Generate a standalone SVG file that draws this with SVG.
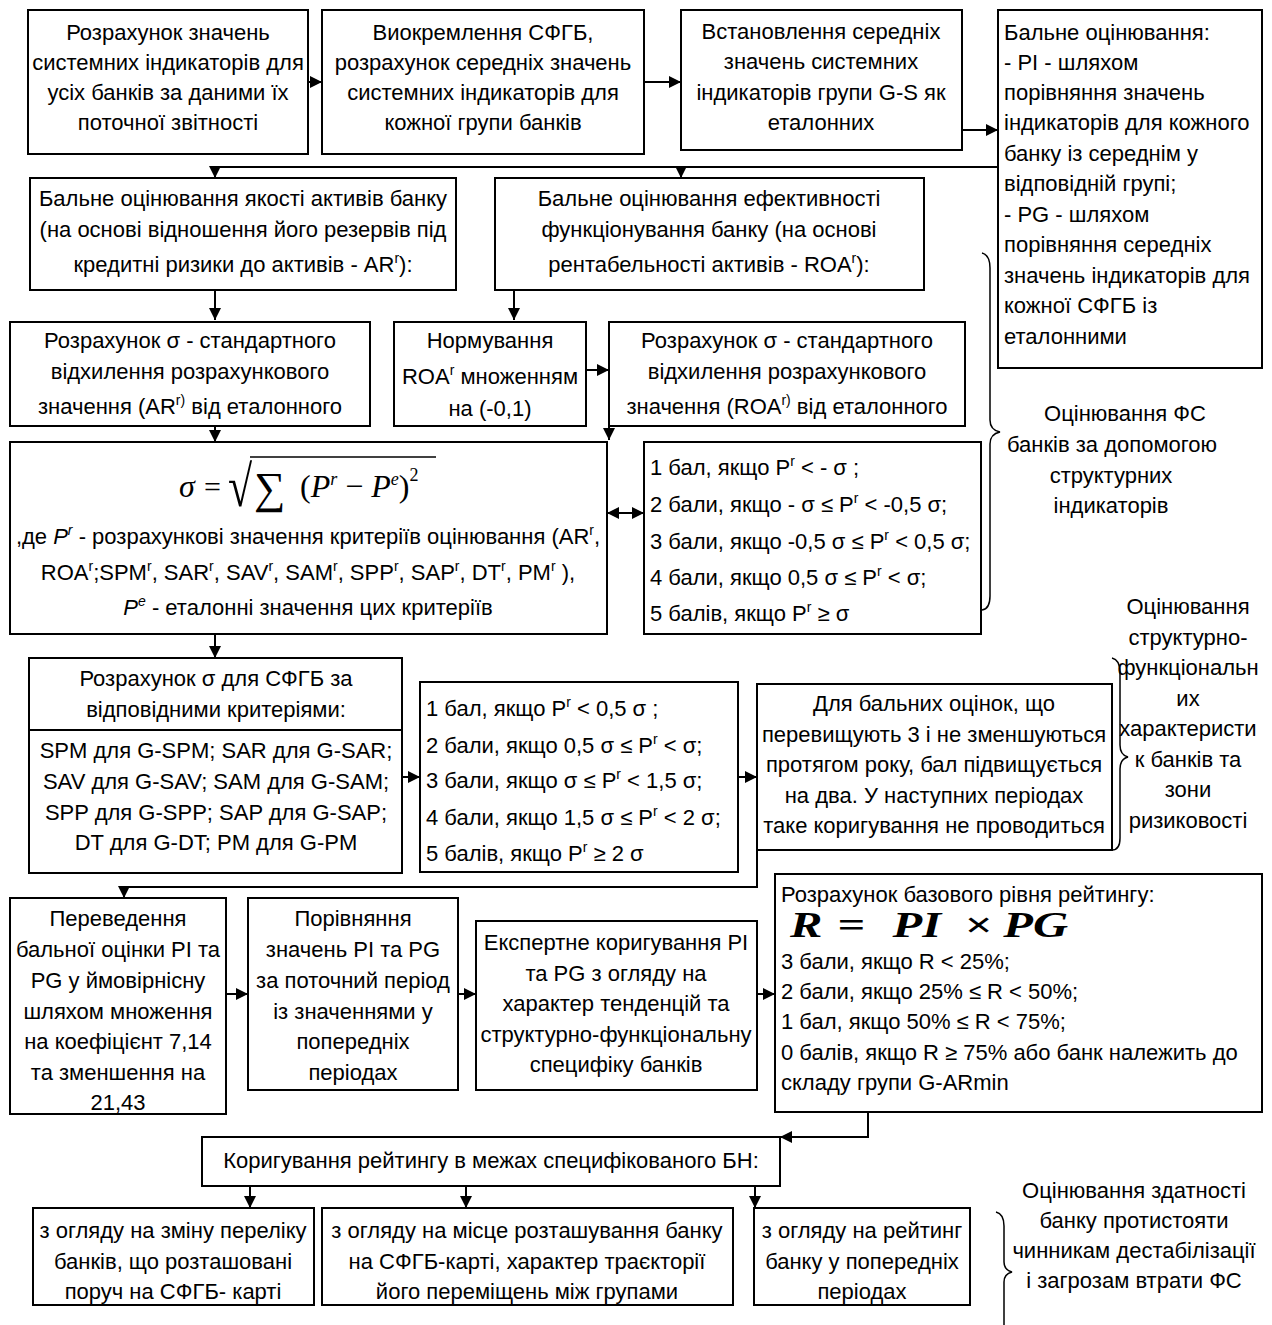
<svg xmlns="http://www.w3.org/2000/svg" width="1272" height="1325" viewBox="0 0 1272 1325">
<defs>
<marker id="ah" viewBox="0 0 12 12" refX="12" refY="6" markerWidth="12" markerHeight="12" markerUnits="userSpaceOnUse" orient="auto-start-reverse">
<path d="M0,0 L12,6 L0,12 z" fill="#000"/>
</marker>
<style>
.b{fill:#fff;stroke:#000;stroke-width:2}
.t{font-family:"Liberation Sans",Arial,sans-serif;font-size:22px;fill:#000}
.c{text-anchor:middle}
.s{font-size:14px}
.m{font-family:"Liberation Serif","Times New Roman",serif;fill:#000}
.conn path{fill:none;stroke:#000;stroke-width:2}
.br{fill:none;stroke:#000;stroke-width:1.5}
</style>
</defs>
<rect width="1272" height="1325" fill="#fff"/>

<g id="connectors" class="conn">
<path d="M308,82 H322" marker-end="url(#ah)"/>
<path d="M644,82 H681" marker-end="url(#ah)"/>
<path d="M962,130 H998" marker-end="url(#ah)"/>
<path d="M998,167 H215 V178" marker-end="url(#ah)"/>
<path d="M681,167 V178" marker-end="url(#ah)"/>
<path d="M215,290 V320" marker-end="url(#ah)"/>
<path d="M514,290 V320" marker-end="url(#ah)"/>
<path d="M586,370 H609" marker-end="url(#ah)"/>
<path d="M609,426 V440" marker-end="url(#ah)"/>
<path d="M215,426 V442" marker-end="url(#ah)"/>
<path d="M607,513 H644" marker-start="url(#ah)" marker-end="url(#ah)"/>
<path d="M215,634 V658" marker-end="url(#ah)"/>
<path d="M402,777 H420" marker-end="url(#ah)"/>
<path d="M738,777 H757" marker-end="url(#ah)"/>
<path d="M757,850 V887 H124 V898" marker-end="url(#ah)"/>
<path d="M226,994 H248" marker-end="url(#ah)"/>
<path d="M458,994 H476" marker-end="url(#ah)"/>
<path d="M757,994 H775" marker-end="url(#ah)"/>
<path d="M868,1112 V1137 H780" marker-end="url(#ah)"/>
<path d="M250,1186 V1208" marker-end="url(#ah)"/>
<path d="M466,1186 V1208" marker-end="url(#ah)"/>
<path d="M755,1186 V1208" marker-end="url(#ah)"/>
</g>

<g id="n1"><rect class="b" x="28" y="10" width="280" height="144"/>
<text class="t c" x="168" y="40">Розрахунок значень</text>
<text class="t c" x="168" y="70">системних індикаторів для</text>
<text class="t c" x="168" y="100">усіх банків за даними їх</text>
<text class="t c" x="168" y="130">поточної звітності</text></g>

<g id="n2"><rect class="b" x="322" y="10" width="322" height="144"/>
<text class="t c" x="483" y="40">Виокремлення СФГБ,</text>
<text class="t c" x="483" y="70">розрахунок середніх значень</text>
<text class="t c" x="483" y="100">системних індикаторів для</text>
<text class="t c" x="483" y="130">кожної групи банків</text></g>

<g id="n3"><rect class="b" x="681" y="10" width="281" height="140"/>
<text class="t c" x="821" y="39">Встановлення середніх</text>
<text class="t c" x="821" y="69">значень системних</text>
<text class="t c" x="821" y="100">індикаторів групи G-S як</text>
<text class="t c" x="821" y="130">еталонних</text></g>

<g id="n4"><rect class="b" x="998" y="10" width="264" height="358"/>
<text class="t" x="1004" y="40">Бальне оцінювання:</text>
<text class="t" x="1004" y="70">- PI - шляхом</text>
<text class="t" x="1004" y="100">порівняння значень</text>
<text class="t" x="1004" y="130">індикаторів для кожного</text>
<text class="t" x="1004" y="161">банку із середнім у</text>
<text class="t" x="1004" y="191">відповідній групі;</text>
<text class="t" x="1004" y="222">- PG - шляхом</text>
<text class="t" x="1004" y="252">порівняння середніх</text>
<text class="t" x="1004" y="283">значень індикаторів для</text>
<text class="t" x="1004" y="313">кожної СФГБ із</text>
<text class="t" x="1004" y="344">еталонними</text></g>

<g id="n5"><rect class="b" x="30" y="178" width="426" height="112"/>
<text class="t c" x="243" y="206">Бальне оцінювання якості активів банку</text>
<text class="t c" x="243" y="237">(на основі відношення його резервів під</text>
<text class="t c" x="243" y="272">кредитні ризики до активів - AR<tspan class="s" dy="-9">r</tspan><tspan dy="9">):</tspan></text></g>

<g id="n6"><rect class="b" x="495" y="178" width="429" height="112"/>
<text class="t c" x="709" y="206">Бальне оцінювання ефективності</text>
<text class="t c" x="709" y="237">функціонування банку (на основі</text>
<text class="t c" x="709" y="272">рентабельності активів - ROA<tspan class="s" dy="-9">r</tspan><tspan dy="9">):</tspan></text></g>

<g id="n7"><rect class="b" x="10" y="322" width="360" height="104"/>
<text class="t c" x="190" y="348">Розрахунок σ - стандартного</text>
<text class="t c" x="190" y="379">відхилення  розрахункового</text>
<text class="t c" x="190" y="414">значення (AR<tspan class="s" dy="-9">r)</tspan><tspan dy="9">  від еталонного</tspan></text></g>

<g id="n8"><rect class="b" x="394" y="322" width="192" height="104"/>
<text class="t c" x="490" y="348">Нормування</text>
<text class="t c" x="490" y="384">ROA<tspan class="s" dy="-9">r</tspan><tspan dy="9"> множенням</tspan></text>
<text class="t c" x="490" y="416">на (-0,1)</text></g>

<g id="n9"><rect class="b" x="609" y="322" width="356" height="104"/>
<text class="t c" x="787" y="348">Розрахунок σ - стандартного</text>
<text class="t c" x="787" y="379">відхилення  розрахункового</text>
<text class="t c" x="787" y="414">значення (ROA<tspan class="s" dy="-9">r)</tspan><tspan dy="9"> від еталонного</tspan></text></g>

<g id="n10"><rect class="b" x="10" y="442" width="597" height="192"/>
<text class="m" x="179" y="497" font-size="32" font-style="italic">σ</text>
<text class="m" x="204" y="497" font-size="30">=</text>
<text class="m" transform="translate(228,506) scale(1.1,1.45)" font-size="40">√</text>
<line x1="250" y1="457" x2="436" y2="457" stroke="#000" stroke-width="1.5"/>
<text class="m" x="254" y="503" font-size="44">∑</text>
<text class="m" x="300" y="497" font-size="32">(<tspan font-style="italic">P</tspan><tspan font-size="18" dy="-12" font-style="italic">r</tspan><tspan dy="12"> − </tspan><tspan font-style="italic">P</tspan><tspan font-size="18" dy="-12" font-style="italic">e</tspan><tspan dy="12">)</tspan><tspan font-size="18" dy="-16">2</tspan></text>
<text class="t c" x="308" y="544">,де <tspan font-style="italic">P</tspan><tspan class="s" dy="-9" font-style="italic">r</tspan><tspan dy="9"> - розрахункові значення критеріїв оцінювання (AR</tspan><tspan class="s" dy="-9">r</tspan><tspan dy="9">,</tspan></text>
<text class="t c" x="308" y="580">ROA<tspan class="s" dy="-9">r</tspan><tspan dy="9">;SPM</tspan><tspan class="s" dy="-9">r</tspan><tspan dy="9">, SAR</tspan><tspan class="s" dy="-9">r</tspan><tspan dy="9">, SAV</tspan><tspan class="s" dy="-9">r</tspan><tspan dy="9">, SAM</tspan><tspan class="s" dy="-9">r</tspan><tspan dy="9">, SPP</tspan><tspan class="s" dy="-9">r</tspan><tspan dy="9">, SAP</tspan><tspan class="s" dy="-9">r</tspan><tspan dy="9">, DT</tspan><tspan class="s" dy="-9">r</tspan><tspan dy="9">, PM</tspan><tspan class="s" dy="-9">r</tspan><tspan dy="9"> ),</tspan></text>
<text class="t c" x="308" y="615"><tspan font-style="italic">P</tspan><tspan class="s" dy="-9" font-style="italic">e</tspan><tspan dy="9">  - еталонні значення цих критеріїв</tspan></text></g>

<g id="n11"><rect class="b" x="644" y="442" width="337" height="192"/>
<text class="t" x="650" y="475">1 бал, якщо P<tspan class="s" dy="-9">r</tspan><tspan dy="9"> &lt; - σ ;</tspan></text>
<text class="t" x="650" y="512">2 бали, якщо - σ ≤ P<tspan class="s" dy="-9">r</tspan><tspan dy="9"> &lt; -0,5 σ;</tspan></text>
<text class="t" x="650" y="549">3 бали, якщо -0,5 σ ≤ P<tspan class="s" dy="-9">r</tspan><tspan dy="9"> &lt; 0,5 σ;</tspan></text>
<text class="t" x="650" y="585">4 бали, якщо 0,5 σ ≤ P<tspan class="s" dy="-9">r</tspan><tspan dy="9"> &lt; σ;</tspan></text>
<text class="t" x="650" y="621">5 балів, якщо P<tspan class="s" dy="-9">r</tspan><tspan dy="9"> ≥  σ</tspan></text></g>

<g id="brace1"><path class="br" d="M982,253 Q990,255 990,268 V420 Q990,430 1000,432 Q990,434 990,444 V596 Q990,609 982,610"/>
<text class="t c" x="1125" y="421">Оцінювання ФС</text>
<text class="t c" x="1112" y="452">банків за допомогою</text>
<text class="t c" x="1111" y="483">структурних</text>
<text class="t c" x="1111" y="513">індикаторів</text></g>

<g id="n12"><rect class="b" x="29" y="658" width="373" height="215"/>
<line x1="29" y1="730" x2="402" y2="730" stroke="#000" stroke-width="2"/>
<text class="t c" x="216" y="686">Розрахунок σ для СФГБ за</text>
<text class="t c" x="216" y="717">відповідними критеріями:</text>
<text class="t c" x="216" y="758">SPM для G-SPM; SAR для G-SAR;</text>
<text class="t c" x="216" y="789">SAV для G-SAV; SAM для G-SAM;</text>
<text class="t c" x="216" y="820">SPP для G-SPP; SAP для G-SAP;</text>
<text class="t c" x="216" y="850">DT для G-DT; PM для G-PM</text></g>

<g id="n13"><rect class="b" x="420" y="682" width="318" height="190"/>
<text class="t" x="426" y="716">1 бал, якщо P<tspan class="s" dy="-9">r</tspan><tspan dy="9"> &lt; 0,5 σ ;</tspan></text>
<text class="t" x="426" y="753">2 бали, якщо 0,5 σ ≤ P<tspan class="s" dy="-9">r</tspan><tspan dy="9"> &lt; σ;</tspan></text>
<text class="t" x="426" y="788">3 бали, якщо σ ≤ P<tspan class="s" dy="-9">r</tspan><tspan dy="9"> &lt; 1,5 σ;</tspan></text>
<text class="t" x="426" y="825">4 бали, якщо 1,5 σ ≤ P<tspan class="s" dy="-9">r</tspan><tspan dy="9"> &lt; 2 σ;</tspan></text>
<text class="t" x="426" y="861">5 балів, якщо P<tspan class="s" dy="-9">r</tspan><tspan dy="9"> ≥ 2 σ</tspan></text></g>

<g id="n14"><rect class="b" x="757" y="684" width="355" height="166"/>
<text class="t c" x="934" y="711">Для бальних оцінок, що</text>
<text class="t c" x="934" y="742">перевищують 3 і не зменшуються</text>
<text class="t c" x="934" y="772">протягом року, бал підвищується</text>
<text class="t c" x="934" y="803">на два. У наступних періодах</text>
<text class="t c" x="934" y="833">таке коригування не проводиться</text></g>

<g id="brace2"><path class="br" d="M1112,658 Q1120,660 1120,672 V745 Q1120,755 1128,757 Q1120,759 1120,769 V838 Q1120,850 1112,850"/>
<text class="t c" x="1188" y="614">Оцінювання</text>
<text class="t c" x="1188" y="645">структурно-</text>
<text class="t c" x="1188" y="675">функціональн</text>
<text class="t c" x="1188" y="706">их</text>
<text class="t c" x="1188" y="736">характеристи</text>
<text class="t c" x="1188" y="767">к банків та</text>
<text class="t c" x="1188" y="797">зони</text>
<text class="t c" x="1188" y="828">ризиковості</text></g>

<g id="n15"><rect class="b" x="10" y="898" width="216" height="216"/>
<text class="t c" x="118" y="926">Переведення</text>
<text class="t c" x="118" y="957">бальної оцінки PI та</text>
<text class="t c" x="118" y="988">PG  у ймовірнісну</text>
<text class="t c" x="118" y="1019">шляхом множення</text>
<text class="t c" x="118" y="1049">на коефіцієнт 7,14</text>
<text class="t c" x="118" y="1080">та зменшення на</text>
<text class="t c" x="118" y="1110">21,43</text></g>

<g id="n16"><rect class="b" x="248" y="898" width="210" height="192"/>
<text class="t c" x="353" y="926">Порівняння</text>
<text class="t c" x="353" y="957">значень PI та PG</text>
<text class="t c" x="353" y="988">за поточний період</text>
<text class="t c" x="353" y="1019">із значеннями у</text>
<text class="t c" x="353" y="1049">попередніх</text>
<text class="t c" x="353" y="1080">періодах</text></g>

<g id="n17"><rect class="b" x="476" y="921" width="281" height="169"/>
<text class="t c" x="616" y="950">Експертне коригування PI</text>
<text class="t c" x="616" y="981">та PG з огляду на</text>
<text class="t c" x="616" y="1011">характер тенденцій та</text>
<text class="t c" x="616" y="1042">структурно-функціональну</text>
<text class="t c" x="616" y="1072">специфіку банків</text></g>

<g id="n18"><rect class="b" x="775" y="874" width="487" height="238"/>
<text class="t" x="781" y="902">Розрахунок базового рівня рейтингу:</text>
<text class="m" transform="translate(790,937) scale(1.35,1)" font-size="36" font-style="italic" font-weight="bold"><tspan x="0">R</tspan><tspan x="35">=</tspan><tspan x="76">PI</tspan><tspan x="129">×</tspan><tspan x="158">PG</tspan></text>
<text class="t" x="781" y="969">3 бали, якщо R  &lt; 25%;</text>
<text class="t" x="781" y="999">2 бали, якщо  25% ≤ R  &lt; 50%;</text>
<text class="t" x="781" y="1029">1 бал, якщо 50% ≤ R  &lt; 75%;</text>
<text class="t" x="781" y="1060">0 балів,  якщо R ≥ 75% або банк належить до</text>
<text class="t" x="781" y="1090">складу групи G-ARmin</text></g>

<g id="n19"><rect class="b" x="202" y="1137" width="578" height="49"/>
<text class="t c" x="491" y="1168">Коригування рейтингу в межах специфікованого БН:</text></g>

<g id="n20"><rect class="b" x="33" y="1208" width="281" height="97"/>
<text class="t c" x="173" y="1238">з огляду на зміну переліку</text>
<text class="t c" x="173" y="1269">банків, що розташовані</text>
<text class="t c" x="173" y="1299">поруч на СФГБ- карті</text></g>

<g id="n21"><rect class="b" x="322" y="1208" width="411" height="97"/>
<text class="t c" x="527" y="1238">з огляду на місце розташування банку</text>
<text class="t c" x="527" y="1269">на СФГБ-карті, характер траєкторії</text>
<text class="t c" x="527" y="1299">його переміщень між групами</text></g>

<g id="n22"><rect class="b" x="754" y="1208" width="216" height="97"/>
<text class="t c" x="862" y="1238">з огляду на рейтинг</text>
<text class="t c" x="862" y="1269">банку у попередніх</text>
<text class="t c" x="862" y="1299">періодах</text></g>

<g id="brace3"><path class="br" d="M996,1212 Q1004,1214 1004,1226 V1262 Q1004,1270 1012,1272 Q1004,1274 1004,1282 V1325"/>
<text class="t c" x="1134" y="1198">Оцінювання здатності</text>
<text class="t c" x="1134" y="1228">банку протистояти</text>
<text class="t c" x="1134" y="1258">чинникам дестабілізації</text>
<text class="t c" x="1134" y="1288">і загрозам втрати ФС</text></g>
</svg>
